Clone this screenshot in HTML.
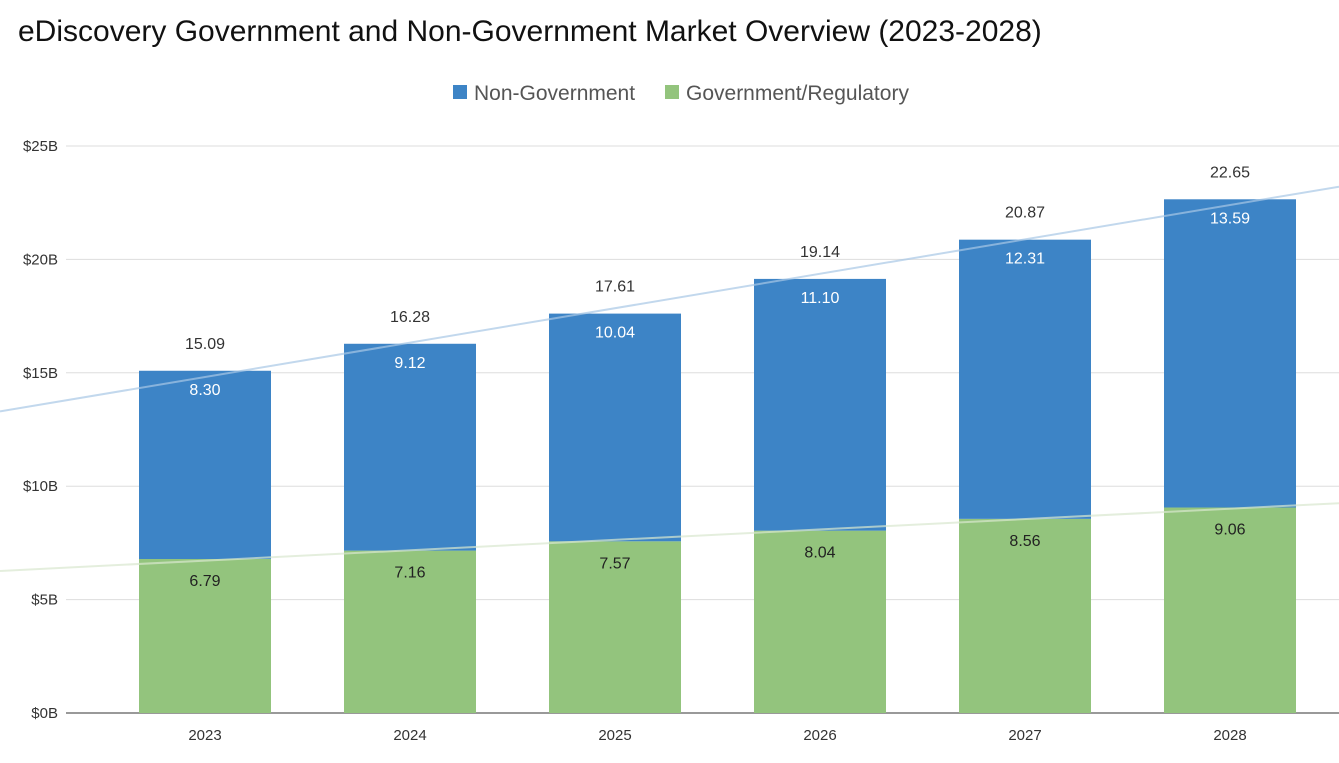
<!DOCTYPE html>
<html><head><meta charset="utf-8"><style>
body{margin:0;background:#fff;font-family:"Liberation Sans",Arial,sans-serif;}
svg text{font-family:"Liberation Sans",Arial,sans-serif;}
</style></head><body>
<svg id="chart" width="1339" height="758" viewBox="0 0 1339 758">
<text x="18" y="41" font-size="30" fill="#111">eDiscovery Government and Non-Government Market Overview (2023-2028)</text>
<g>
<rect x="453" y="85" width="14" height="14" fill="#3d84c6"/>
<text x="474" y="100" font-size="21" fill="#555">Non-Government</text>
<rect x="665" y="85" width="14" height="14" fill="#93c47d"/>
<text x="686" y="100" font-size="21" fill="#555">Government/Regulatory</text>
</g>
<g id="grid"></g><g id="bars"></g><g id="trend"></g><g id="labels"></g>
</svg>
<script>
const years=["2023","2024","2025","2026","2027","2028"];
const gov=[6.79,7.16,7.57,8.04,8.56,9.06];
const nonGov=[8.30,9.12,10.04,11.10,12.31,13.59];
const totals=[15.09,16.28,17.61,19.14,20.87,22.65];
const yTicks=[0,5,10,15,20,25];
const tickLabels=["$0B","$5B","$10B","$15B","$20B","$25B"];
const NS="http://www.w3.org/2000/svg";
const y0=713,yTop=146,yMax=25;
function y(v){return y0-(v/yMax)*(y0-yTop);}
function xc(i){return 205+i*205;}
const bw=132;
function mk(tag,attrs,parent){const e=document.createElementNS(NS,tag);for(const k in attrs)e.setAttribute(k,attrs[k]);document.getElementById(parent).appendChild(e);return e;}
yTicks.forEach((t,i)=>{
 const l=mk('line',{x1:66,x2:1339,y1:y(t),y2:y(t),stroke:i==0?'#333':'#ddd','stroke-width':1},'grid');
 
 
 const tx=mk('text',{x:58,y:y(t)+5,'font-size':15,fill:'#333','text-anchor':'end'},'grid');
 tx.textContent=tickLabels[i];
 
 
});
years.forEach((yr,i)=>{
 const g=mk('rect',{x:xc(i)-bw/2,y:y(gov[i]),width:bw,height:y0-y(gov[i]),fill:'#93c47d'},'bars');
 
 
 const n=mk('rect',{x:xc(i)-bw/2,y:y(gov[i]+nonGov[i]),width:bw,height:y(gov[i])-y(gov[i]+nonGov[i]),fill:'#3d84c6'},'bars');
 
 
 const a=mk('text',{x:xc(i),y:y(gov[i])+27,'font-size':16,fill:'#222','text-anchor':'middle'},'labels');
 a.textContent=gov[i].toFixed(2);
 
 
 const b=mk('text',{x:xc(i),y:y(gov[i]+nonGov[i])+24,'font-size':16,fill:'#fff','text-anchor':'middle'},'labels');
 b.textContent=nonGov[i].toFixed(2);
 
 
 const c=mk('text',{x:xc(i),y:y(totals[i])-22,'font-size':16,fill:'#333','text-anchor':'middle'},'labels');
 c.textContent=totals[i].toFixed(2);
 
 
 const d=mk('text',{x:xc(i),y:740,'font-size':15,fill:'#333','text-anchor':'middle'},'labels');
 d.textContent=yr;
 
 
});
function fit(arr){const n=arr.length;const mx=(n-1)/2;const my=arr.reduce((s,v)=>s+v,0)/n;let num=0,den=0;arr.forEach((v,i)=>{num+=(i-mx)*(v-my);den+=(i-mx)*(i-mx);});const m=num/den;return i=>my+m*(i-mx);}
function trend(arr,color,name){const f=fit(arr);const i0=(0-205)/205,i1=(1339-205)/205;
 const l=mk('line',{x1:0,y1:y(f(i0)),x2:1339,y2:y(f(i1)),stroke:color,'stroke-width':2,opacity:0.7},'trend');
 
 }
trend(totals,'#a9c8e6','trendline-non-government');
trend(gov,'#d9e8cf','trendline-government');
</script>
</body></html>
